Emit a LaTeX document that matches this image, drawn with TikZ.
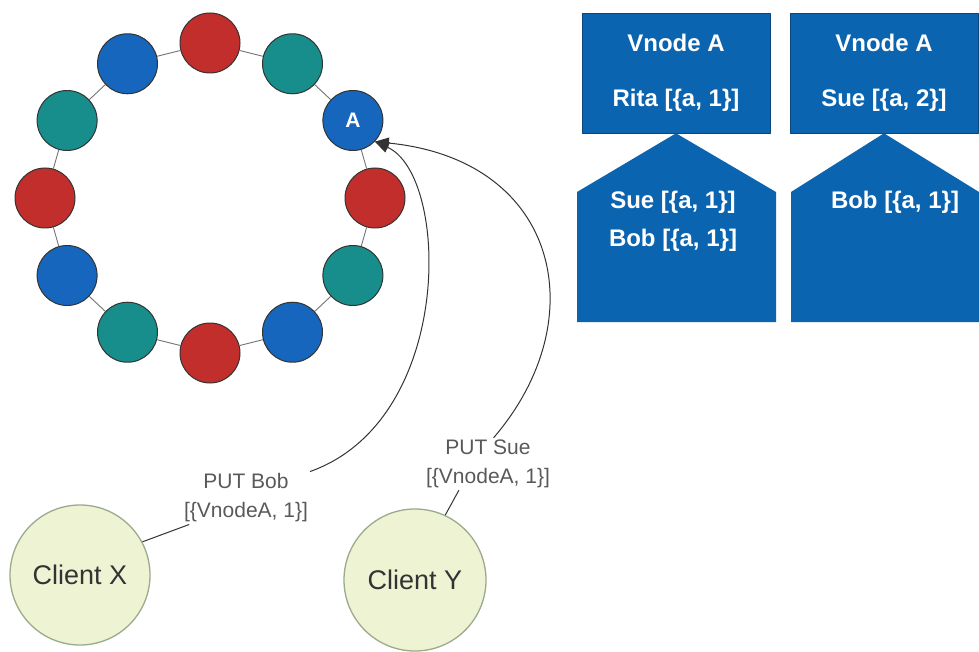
\documentclass[tikz,border=0pt]{standalone}
\usepackage{fontspec}
\setmainfont{Liberation Sans}
\usetikzlibrary{arrows.meta}
\definecolor{ringred}{HTML}{C12E2C}
\definecolor{ringteal}{HTML}{178D8C}
\definecolor{ringblue}{HTML}{1666BD}
\definecolor{vblue}{HTML}{0B64AF}
\definecolor{clientfill}{HTML}{EEF4D3}
\definecolor{clientline}{HTML}{9BAA8D}
\tikzset{
  every picture/.style={line join=round},
  vnode/.style={circle,draw=black!80,line width=1pt,minimum size=60pt,inner sep=0pt,
    text=white,font=\bfseries\fontsize{21}{24}\selectfont},
  ringlink/.style={draw=black!55,line width=0.9pt},
  vbox/.style={rectangle,fill=vblue,draw=vblue!70!black,line width=0.6pt,inner sep=0pt,
    text=white,align=center,font=\bfseries\fontsize{24}{28}\selectfont},
  vtext/.style={text=white,align=center,font=\bfseries\fontsize{24}{38}\selectfont},
  client/.style={circle,draw=clientline,fill=clientfill,line width=1.3pt,inner sep=0pt,
    text=black!80,font=\fontsize{27}{32}\selectfont},
  putlabel/.style={align=center,text=black!65,inner sep=2pt,font=\fontsize{21}{29}\selectfont},
  request/.style={draw=black!80,line width=1pt},
}
\begin{document}
\begin{tikzpicture}[x=1pt,y=-1pt]
\useasboundingbox (0,0) rectangle (979,652);

% the ring of vnodes
\foreach \i/\c in {0/ringred,1/ringteal,2/ringblue,3/ringred,4/ringteal,5/ringblue,
                   6/ringred,7/ringteal,8/ringblue,9/ringred,10/ringteal,11/ringblue}
  \node[vnode,fill=\c] (r\i) at ({210+165*cos(90-30*\i)},{198-155*sin(90-30*\i)})
    {\ifnum\i=2 A\fi};
\foreach \i in {0,...,11} {
  \pgfmathtruncatemacro{\j}{mod(\i+1,12)}
  \draw[ringlink] (r\i) -- (r\j);
}

% vnode A, two versions
\node[vbox,minimum width=188pt,minimum height=120pt] (vleft) at (676,73)
  {Vnode A\\[27pt]Rita [\{a, 1\}]};
\node[vbox,minimum width=188pt,minimum height=120pt] (vright) at (884,73)
  {Vnode A\\[27pt]Sue [\{a, 2\}]};

\fill[vblue] (vleft.south) -- (776,192) -- (776,322) -- (577,322) -- (577,192) -- cycle;
\fill[vblue] (vright.south) -- (979,192) -- (979,322) -- (791,322) -- (791,192) -- cycle;
\node[vtext] (sibl) at (673,221) {Sue [\{a, 1\}]\\Bob [\{a, 1\}]};
\node[vtext] (sibr) at (895,202) {Bob [\{a, 1\}]};

% clients
\node[client,minimum size=140pt] (cx) at (80,575) {Client X};
\node[client,minimum size=142pt] (cy) at (415,580) {Client Y};

\node[putlabel] (boblbl) at (246,498) {PUT Bob\\{}[\{VnodeA, 1\}]};
\node[putlabel] (suelbl) at (488,464) {PUT Sue\\{}[\{VnodeA, 1\}]};

% requests
\draw[request] (cx.28) -- (boblbl.205);
\draw[request,-{Triangle[length=14pt,width=11pt]}] (boblbl.north east)
  .. controls (455,420) and (450,175) .. (r2.-44);
\draw[request] (cy.65) -- (suelbl.222);
\draw[request,-{Triangle[length=14pt,width=11pt]}] (suelbl.78)
  .. controls (595,320) and (560,160) .. (r2.-44);
\end{tikzpicture}
\end{document}
